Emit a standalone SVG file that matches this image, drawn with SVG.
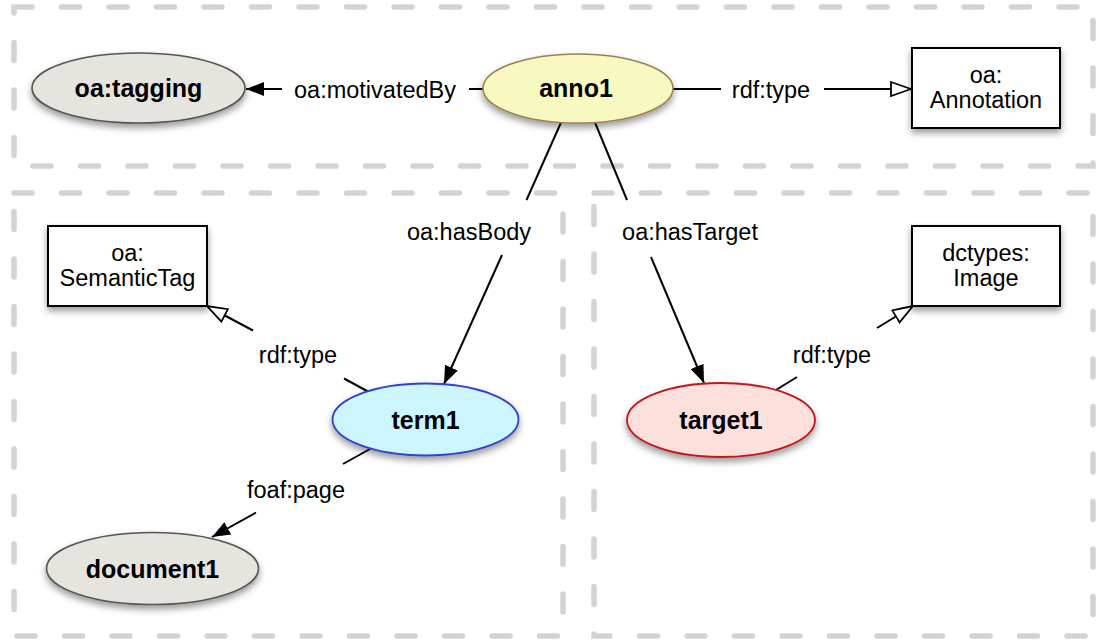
<svg xmlns="http://www.w3.org/2000/svg" width="1100" height="642" viewBox="0 0 1100 642">
<defs>
<style>
.cont{fill:none;stroke:#d3d3d3;stroke-width:5.5;stroke-linecap:round;stroke-dasharray:18 29.5}
.edge{fill:none;stroke:#000;stroke-width:2}
.lbl{font-family:"Liberation Sans",Arial,Helvetica,sans-serif;font-size:23.5px;fill:#000;text-anchor:middle}
.nlbl{font-family:"Liberation Sans",Arial,Helvetica,sans-serif;font-size:25px;font-weight:bold;fill:#000;text-anchor:middle}
.box{fill:#fff;stroke:#000;stroke-width:2}
.gray{fill:#e6e4df;stroke:#5a5350;stroke-width:1.6}
</style>
<filter id="sh" x="-20%" y="-20%" width="140%" height="160%">
<feDropShadow dx="0" dy="4" stdDeviation="3.5" flood-color="#000" flood-opacity="0.4"/>
</filter>
<marker id="af" viewBox="0 0 18 14" markerWidth="18" markerHeight="14" refX="18" refY="7" orient="auto" markerUnits="userSpaceOnUse">
<path d="M0,0 L18,7 L0,14 z" fill="#000"/>
</marker>
<marker id="ah" viewBox="0 0 22 16" markerWidth="22" markerHeight="16" refX="21" refY="8" orient="auto" markerUnits="userSpaceOnUse">
<path d="M1,1 L21,8 L1,15 z" fill="#fff" stroke="#000" stroke-width="1.8"/>
</marker>
</defs>
<rect width="1100" height="642" fill="#fff"/>
<g id="containers">
<rect class="cont" x="14" y="7" width="1079" height="159"/>
<rect class="cont" x="14" y="193" width="549" height="443"/>
<rect class="cont" x="594" y="193" width="499" height="443"/>
</g>
<g id="connectors">
<line class="edge" x1="483" y1="89" x2="469" y2="89"/>
<line class="edge" x1="282" y1="89" x2="246" y2="89" marker-end="url(#af)"/>
<text class="lbl" x="375" y="97.5">oa:motivatedBy</text>
<line class="edge" x1="673" y1="89" x2="721" y2="89"/>
<line class="edge" x1="824" y1="89" x2="911" y2="89" marker-end="url(#ah)"/>
<text class="lbl" x="771" y="97.5">rdf:type</text>
<line class="edge" x1="561" y1="122.5" x2="526.5" y2="200"/>
<line class="edge" x1="502" y1="255" x2="444" y2="384" marker-end="url(#af)"/>
<text class="lbl" x="469" y="240">oa:hasBody</text>
<line class="edge" x1="595" y1="122.5" x2="627" y2="200"/>
<line class="edge" x1="651" y1="257" x2="704" y2="383" marker-end="url(#af)"/>
<text class="lbl" x="690" y="240">oa:hasTarget</text>
<line class="edge" x1="368" y1="391.5" x2="344" y2="378.5"/>
<line class="edge" x1="253" y1="330.5" x2="207" y2="306" marker-end="url(#ah)"/>
<text class="lbl" x="298" y="363">rdf:type</text>
<line class="edge" x1="776" y1="390" x2="797" y2="377"/>
<line class="edge" x1="877" y1="328" x2="913" y2="306" marker-end="url(#ah)"/>
<text class="lbl" x="832" y="363">rdf:type</text>
<line class="edge" x1="370" y1="449" x2="343" y2="464"/>
<line class="edge" x1="256" y1="512.5" x2="212" y2="537" marker-end="url(#af)"/>
<text class="lbl" x="296" y="498">foaf:page</text>
</g>
<g id="oa-tagging">
<ellipse class="gray" cx="138.5" cy="88" rx="106.5" ry="35" filter="url(#sh)"/>
<text class="nlbl" x="138.5" y="97">oa:tagging</text>
</g>
<g id="anno1">
<ellipse cx="578" cy="88.5" rx="95" ry="34.5" fill="#f7f9c1" stroke="#9e7f55" stroke-width="1.6" filter="url(#sh)"/>
<text class="nlbl" x="576" y="97">anno1</text>
</g>
<g id="oa-Annotation">
<rect class="box" x="912" y="48" width="148" height="80" filter="url(#sh)"/>
<text class="lbl" x="986" y="83">oa:</text>
<text class="lbl" x="986" y="108">Annotation</text>
</g>
<g id="oa-SemanticTag">
<rect class="box" x="48" y="226" width="159" height="80" filter="url(#sh)"/>
<text class="lbl" x="127.5" y="261">oa:</text>
<text class="lbl" x="127.5" y="286">SemanticTag</text>
</g>
<g id="dctypes-Image">
<rect class="box" x="912" y="226" width="148" height="80" filter="url(#sh)"/>
<text class="lbl" x="986" y="261">dctypes:</text>
<text class="lbl" x="986" y="286">Image</text>
</g>
<g id="term1">
<ellipse cx="425.5" cy="419.5" rx="93" ry="36" fill="#ccf5fd" stroke="#3242c8" stroke-width="1.8" filter="url(#sh)"/>
<text class="nlbl" x="425.5" y="428.5">term1</text>
</g>
<g id="target1">
<ellipse cx="721" cy="420" rx="94" ry="37" fill="#fde0dc" stroke="#c0181c" stroke-width="1.8" filter="url(#sh)"/>
<text class="nlbl" x="721" y="429">target1</text>
</g>
<g id="document1">
<ellipse class="gray" cx="152.5" cy="568.5" rx="106" ry="36" filter="url(#sh)"/>
<text class="nlbl" x="152.5" y="577.5">document1</text>
</g>
</svg>
